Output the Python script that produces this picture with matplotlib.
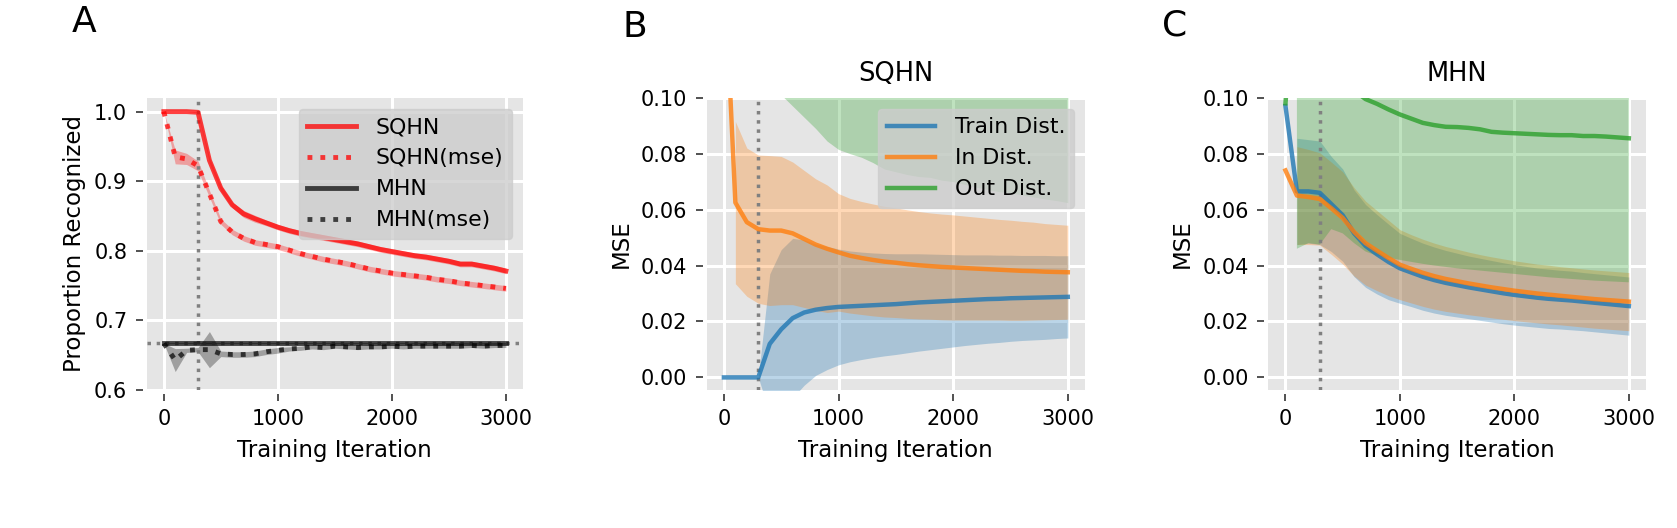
import numpy as np
import matplotlib.pyplot as plt

iters = list(range(0, 3001, 100))
switch_iter = 300
chance_level = 0.667

# panel A: proportion recognized (mean, std)
sqhn_rec = [1.0, 1.0, 1.0, 0.999, 0.93, 0.89, 0.866, 0.853, 0.846, 0.84, 0.834, 0.829, 0.825, 0.822,
            0.819, 0.816, 0.813, 0.81, 0.806, 0.802, 0.799, 0.796, 0.793, 0.791, 0.788, 0.785, 0.781,
            0.781, 0.778, 0.775, 0.771]
sqhn_rec_sd = [0.0, 0.0, 0.0, 0.001, 0.004, 0.004, 0.004, 0.005, 0.005, 0.004, 0.004, 0.004, 0.004,
               0.004, 0.004, 0.004, 0.004, 0.004, 0.004, 0.004, 0.004, 0.004, 0.004, 0.004, 0.004,
               0.004, 0.004, 0.004, 0.004, 0.004, 0.004]
sqhn_mse_rec = [1.0, 0.935, 0.932, 0.922, 0.882, 0.842, 0.827, 0.818, 0.812, 0.809, 0.806, 0.801,
                0.796, 0.792, 0.788, 0.785, 0.782, 0.778, 0.774, 0.771, 0.768, 0.766, 0.764, 0.762,
                0.759, 0.757, 0.754, 0.752, 0.75, 0.748, 0.746]
sqhn_mse_rec_sd = [0.0, 0.01, 0.008, 0.007, 0.005, 0.004, 0.004, 0.004, 0.004, 0.004, 0.004, 0.004,
                   0.004, 0.004, 0.004, 0.004, 0.004, 0.004, 0.004, 0.004, 0.004, 0.004, 0.004, 0.004,
                   0.004, 0.004, 0.004, 0.004, 0.004, 0.004, 0.004]
mhn_rec = [0.667] * 31
mhn_rec_sd = [0.001] * 31
mhn_mse_rec = [0.667, 0.643, 0.657, 0.658, 0.658, 0.652, 0.651, 0.651, 0.652, 0.655, 0.657, 0.659,
               0.66, 0.662, 0.661, 0.663, 0.662, 0.661, 0.662, 0.662, 0.663, 0.662, 0.663, 0.663,
               0.663, 0.663, 0.663, 0.664, 0.663, 0.664, 0.664]
mhn_mse_rec_sd = [0.0, 0.0165, 0.003, 0.003, 0.026, 0.004, 0.004, 0.004, 0.004, 0.004, 0.004, 0.003,
                  0.003, 0.003, 0.003, 0.003, 0.003, 0.003, 0.003, 0.003, 0.003, 0.003, 0.003, 0.003,
                  0.003, 0.003, 0.003, 0.003, 0.003, 0.003, 0.003]

# panel B: SQHN mse
sqhn_train = [0.0, 0.0, 0.0, 0.0, 0.012, 0.0172, 0.0212, 0.0232, 0.0242, 0.0248, 0.0252, 0.0254,
              0.0256, 0.0258, 0.026, 0.0262, 0.0265, 0.0268, 0.027, 0.0272, 0.0274, 0.0276, 0.0278,
              0.028, 0.0281, 0.0283, 0.0284, 0.0285, 0.0286, 0.0287, 0.0288]
sqhn_train_sd = [0.0, 0.0, 0.0, 0.0, 0.025, 0.0285, 0.0285, 0.026, 0.0235, 0.022, 0.0207, 0.0198,
                 0.0192, 0.0187, 0.0183, 0.018, 0.0177, 0.0174, 0.0171, 0.0168, 0.0165, 0.0162,
                 0.016, 0.0158, 0.0156, 0.0154, 0.0152, 0.0151, 0.015, 0.0148, 0.0147]
sqhn_in = [0.15, 0.0625, 0.0555, 0.053, 0.0525, 0.0525, 0.0515, 0.0495, 0.0475, 0.046, 0.0447,
           0.0435, 0.0427, 0.042, 0.0414, 0.041, 0.0405, 0.0401, 0.0398, 0.0395, 0.0393, 0.0391,
           0.0389, 0.0387, 0.0385, 0.0383, 0.0381, 0.038, 0.0378, 0.0377, 0.0376]
sqhn_in_sd = [0.0, 0.029, 0.0265, 0.0265, 0.0268, 0.0265, 0.0255, 0.0245, 0.0235, 0.0228, 0.021,
              0.0205, 0.0202, 0.02, 0.0198, 0.0196, 0.0194, 0.0192, 0.019, 0.0189, 0.0188, 0.0186,
              0.0184, 0.0182, 0.018, 0.0179, 0.0177, 0.0175, 0.0172, 0.017, 0.0168]
sqhn_out = [0.2, 0.185, 0.17, 0.16, 0.152, 0.146, 0.141, 0.137, 0.134, 0.131, 0.129, 0.127, 0.125,
            0.123, 0.122, 0.121, 0.12, 0.119, 0.118, 0.117, 0.116, 0.115, 0.115, 0.114, 0.114, 0.113,
            0.113, 0.112, 0.112, 0.111, 0.111]
sqhn_out_sd = [0.0, 0.045, 0.045, 0.045, 0.045, 0.045, 0.044, 0.044, 0.045, 0.0465, 0.0475, 0.047,
               0.0463, 0.0462, 0.0475, 0.0475, 0.0475, 0.0472, 0.0465, 0.0465, 0.046, 0.046, 0.047,
               0.0468, 0.0476, 0.047, 0.0478, 0.0475, 0.0482, 0.0478, 0.0485]

# panel C: MHN mse
mhn_train = [0.097, 0.0665, 0.0665, 0.066, 0.062, 0.058, 0.0515, 0.047, 0.044, 0.0413, 0.039, 0.0375,
             0.036, 0.0348, 0.0338, 0.033, 0.0322, 0.0315, 0.0308, 0.0301, 0.0295, 0.029, 0.0285,
             0.0281, 0.0278, 0.0275, 0.0271, 0.0267, 0.0263, 0.0259, 0.0255]
mhn_train_sd = [0.0, 0.019, 0.0185, 0.0185, 0.017, 0.0165, 0.0155, 0.0148, 0.0142, 0.0135, 0.0125,
                0.0122, 0.012, 0.0118, 0.0116, 0.0114, 0.0112, 0.0111, 0.011, 0.0109, 0.0108, 0.0107,
                0.0106, 0.0106, 0.0105, 0.0105, 0.0104, 0.0104, 0.0104, 0.0104, 0.0104]
mhn_in = [0.074, 0.065, 0.0645, 0.0638, 0.0605, 0.057, 0.052, 0.048, 0.0453, 0.0427, 0.0403, 0.0388,
          0.0374, 0.0362, 0.0352, 0.0344, 0.0336, 0.0329, 0.0322, 0.0316, 0.031, 0.0305, 0.03,
          0.0296, 0.0292, 0.0288, 0.0284, 0.028, 0.0277, 0.0274, 0.0271]
mhn_in_sd = [0.0, 0.0175, 0.017, 0.0165, 0.0165, 0.0165, 0.0158, 0.015, 0.0143, 0.0135, 0.0125,
             0.0122, 0.012, 0.0118, 0.0116, 0.0114, 0.0112, 0.011, 0.0109, 0.0108, 0.0107, 0.0106,
             0.0105, 0.0105, 0.0104, 0.0104, 0.0104, 0.0104, 0.0104, 0.0104, 0.0104]
mhn_out = [0.098, 0.15, 0.13, 0.12, 0.112, 0.107, 0.1025, 0.0995, 0.0978, 0.0958, 0.094, 0.0925,
           0.091, 0.0902, 0.0896, 0.0895, 0.0892, 0.0887, 0.0878, 0.0875, 0.0873, 0.0871, 0.0869,
           0.0867, 0.0866, 0.0866, 0.0863, 0.0863, 0.0861, 0.0858, 0.0855]
mhn_out_sd = [0.0, 0.104, 0.082, 0.0725, 0.059, 0.0555, 0.0545, 0.0545, 0.0543, 0.053, 0.052, 0.0512,
              0.0504, 0.0502, 0.0501, 0.0505, 0.0506, 0.0505, 0.05, 0.0501, 0.0503, 0.0505, 0.0507,
              0.0509, 0.0511, 0.0514, 0.0514, 0.0517, 0.0517, 0.0516, 0.0515]

plt.rcParams['font.family'] = 'DejaVu Sans'

BG = '#e5e5e5'
W, H = 1677, 528
LABEL_FS = 16.5
LEG_FS = 15.8


def make_axes(fig, left, right, top=97.7, bottom=390):
    ax = fig.add_axes([left / W, 1 - bottom / H, (right - left) / W, (bottom - top) / H])
    ax.set_facecolor(BG)
    ax.grid(True, color='white', lw=2.2)
    ax.set_axisbelow(True)
    for side in ['left', 'bottom']:
        ax.spines[side].set_position(('outward', 3))
    for s in ax.spines.values():
        s.set_visible(False)
    ax.tick_params(direction='out', length=5, width=1.1, color='#222222',
                   labelsize=15, pad=6)
    ax.set_xlim(-150, 3150)
    ax.set_xticks([0, 1000, 2000, 3000])
    ax.set_xlabel('Training Iteration', fontsize=LABEL_FS, labelpad=7)
    return ax


def band(ax, m, sd, color, alpha=0.3, start=0):
    m = np.array(m)
    sd = np.array(sd)
    x = np.array(iters)
    ax.fill_between(x[start:], (m - sd)[start:], (m + sd)[start:], color=color, alpha=alpha, lw=0)


def add_legend(ax):
    ax.legend(loc='upper right', fontsize=LEG_FS, facecolor='#cdcdcd', edgecolor='#cdcdcd',
              framealpha=0.8, handlelength=2.2, handletextpad=0.9)


fig = plt.figure(figsize=(W / 100, H / 100), dpi=100)

# --- A
ax = make_axes(fig, 146.7, 523)
band(ax, sqhn_rec, sqhn_rec_sd, 'red')
band(ax, sqhn_mse_rec, sqhn_mse_rec_sd, 'red')
band(ax, mhn_rec, mhn_rec_sd, 'black')
band(ax, mhn_mse_rec, mhn_mse_rec_sd, 'black')
ax.axvline(switch_iter, color='gray', ls=':', lw=2.5, zorder=1.5)
ax.axhline(chance_level, color='gray', ls=':', lw=2.5, zorder=1.5)
ax.plot(iters, sqhn_rec, color='red', alpha=0.75, lw=3.5, label='SQHN')
ax.plot(iters, sqhn_mse_rec, color='red', alpha=0.75, lw=3.5, ls=':', label='SQHN(mse)')
ax.plot(iters, mhn_rec, color='black', alpha=0.7, lw=3.5, label='MHN')
ax.plot(iters, mhn_mse_rec, color='black', alpha=0.7, lw=3.5, ls=':', label='MHN(mse)')
ax.set_ylim(0.6, 1.02)
ax.set_yticks([0.6, 0.7, 0.8, 0.9, 1.0])
ax.set_ylabel('Proportion Recognized', fontsize=LABEL_FS, labelpad=6)
add_legend(ax)

# --- B and C
for left, right, title, series in [
        (706.7, 1085, 'SQHN', [(sqhn_train, sqhn_train_sd), (sqhn_in, sqhn_in_sd), (sqhn_out, sqhn_out_sd)]),
        (1268.3, 1646, 'MHN', [(mhn_train, mhn_train_sd), (mhn_in, mhn_in_sd), (mhn_out, mhn_out_sd)])]:
    ax = make_axes(fig, left, right)
    colors = ['tab:blue', 'tab:orange', 'tab:green']
    names = ['Train Dist.', 'In Dist.', 'Out Dist.']
    for (m, sd), c in zip(series, colors):
        band(ax, m, sd, c, start=1)
    ax.axvline(switch_iter, color='gray', ls=':', lw=2.5, zorder=1.5)
    for (m, sd), c, n in zip(series, colors, names):
        ax.plot(iters, m, color=c, alpha=0.8, lw=3.2, label=n)
    ax.set_ylim(-0.0045, 0.1)
    ax.set_yticks([0.0, 0.02, 0.04, 0.06, 0.08, 0.1])
    ax.set_yticklabels(['0.00', '0.02', '0.04', '0.06', '0.08', '0.10'])
    ax.set_ylabel('MSE', fontsize=LABEL_FS, labelpad=6)
    ax.set_title(title, fontsize=18.5, pad=12)
    if title == 'SQHN':
        add_legend(ax)

fig.text(72 / W, 1 - 32 / H, 'A', fontsize=26)
fig.text(622 / W, 1 - 37 / H, 'B', fontsize=26)
fig.text(1162 / W, 1 - 36 / H, 'C', fontsize=26)

fig.savefig('out.png', dpi=100)
